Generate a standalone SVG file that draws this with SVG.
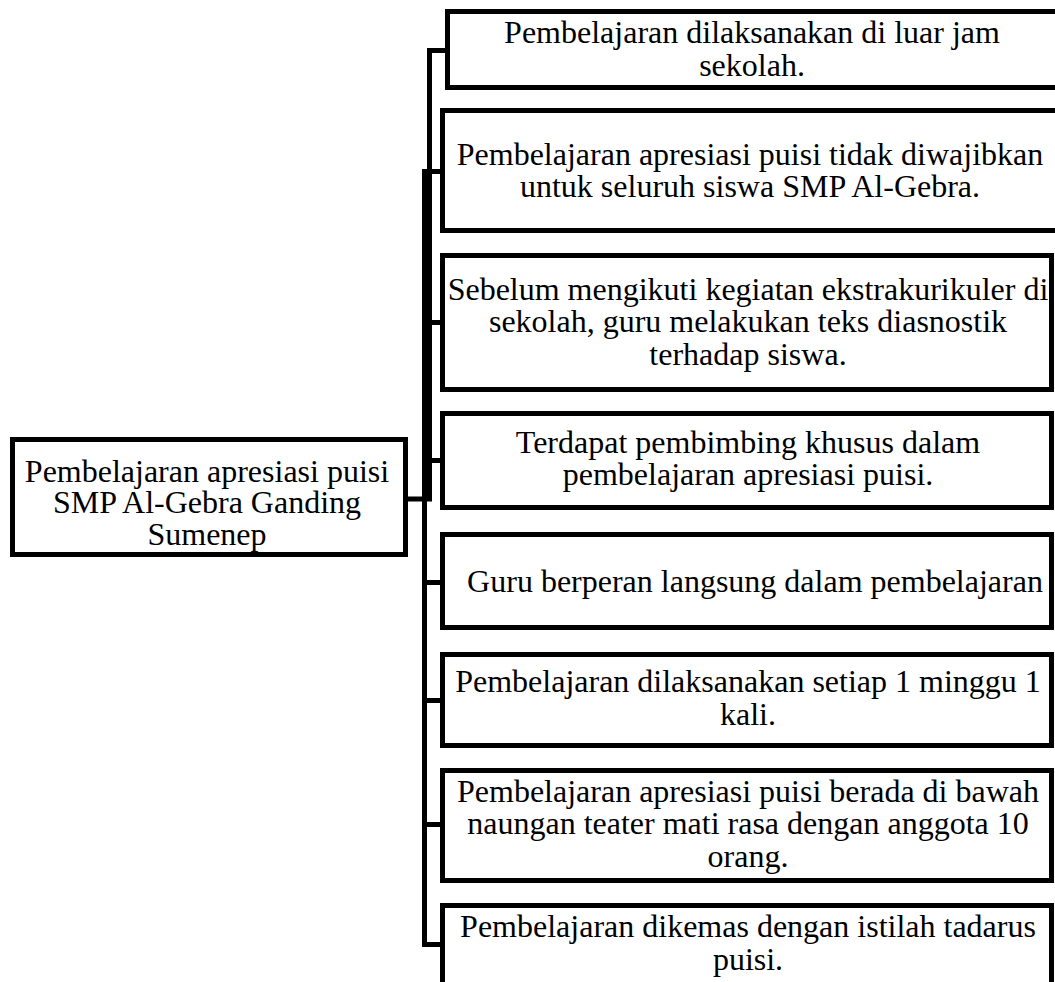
<svg xmlns="http://www.w3.org/2000/svg" width="1055" height="982" viewBox="0 0 1055 982">
<style>
.box{fill:#fff;stroke:#000;stroke-width:5}
.ln{fill:none;stroke:#000;stroke-width:5;stroke-linejoin:miter}
.t{font-family:"Liberation Serif","Times New Roman",serif;font-size:32px;fill:#000;text-anchor:middle}
</style>
<rect width="1055" height="982" fill="#fff"/>
<g id="connectors">
<path class="ln" d="M445,50.5 H429.5 V499 H406"/>
<path class="ln" d="M429.5,322.5 H440 M429.5,460.5 H440"/>
<path class="ln" d="M440,171.5 H424.5 V944.5 H440"/>
<path class="ln" d="M424.5,582.5 H440 M424.5,700.5 H440 M424.5,824.5 H440"/>
</g>
<g id="root">
<rect class="box" x="12.5" y="439.5" width="393" height="115"/>
<text class="t" x="207" y="482">Pembelajaran apresiasi puisi</text>
<text class="t" x="207" y="513">SMP Al-Gebra Ganding</text>
<text class="t" x="207" y="545">Sumenep</text>
</g>
<g id="n1">
<rect class="box" x="447.5" y="11.5" width="620" height="76"/>
<text class="t" x="752" y="43">Pembelajaran dilaksanakan di luar jam</text>
<text class="t" x="752" y="76">sekolah.</text>
</g>
<g id="n2">
<rect class="box" x="442.5" y="110.5" width="630" height="120"/>
<text class="t" x="750" y="165">Pembelajaran apresiasi puisi tidak diwajibkan</text>
<text class="t" x="750" y="197">untuk seluruh siswa SMP Al-Gebra.</text>
</g>
<g id="n3">
<rect class="box" x="442.5" y="255.5" width="609" height="134"/>
<text class="t" x="748" y="300">Sebelum mengikuti kegiatan ekstrakurikuler di</text>
<text class="t" x="748" y="332">sekolah, guru melakukan teks diasnostik</text>
<text class="t" x="748" y="365">terhadap siswa.</text>
</g>
<g id="n4">
<rect class="box" x="442.5" y="413.5" width="609" height="94"/>
<text class="t" x="748" y="453">Terdapat pembimbing khusus dalam</text>
<text class="t" x="748" y="485">pembelajaran apresiasi puisi.</text>
</g>
<g id="n5">
<rect class="box" x="442.5" y="534.5" width="609" height="93"/>
<text class="t" x="755" y="592">Guru berperan langsung dalam pembelajaran</text>
</g>
<g id="n6">
<rect class="box" x="442.5" y="654.5" width="609" height="91"/>
<text class="t" x="748" y="692">Pembelajaran dilaksanakan setiap 1 minggu 1</text>
<text class="t" x="748" y="725">kali.</text>
</g>
<g id="n7">
<rect class="box" x="442.5" y="770.5" width="609" height="110"/>
<text class="t" x="748" y="802">Pembelajaran apresiasi puisi berada di bawah</text>
<text class="t" x="748" y="834">naungan teater mati rasa dengan anggota 10</text>
<text class="t" x="748" y="867">orang.</text>
</g>
<g id="n8">
<rect class="box" x="442.5" y="905.5" width="609" height="100"/>
<text class="t" x="748" y="937">Pembelajaran dikemas dengan istilah tadarus</text>
<text class="t" x="748" y="970">puisi.</text>
</g>
</svg>
